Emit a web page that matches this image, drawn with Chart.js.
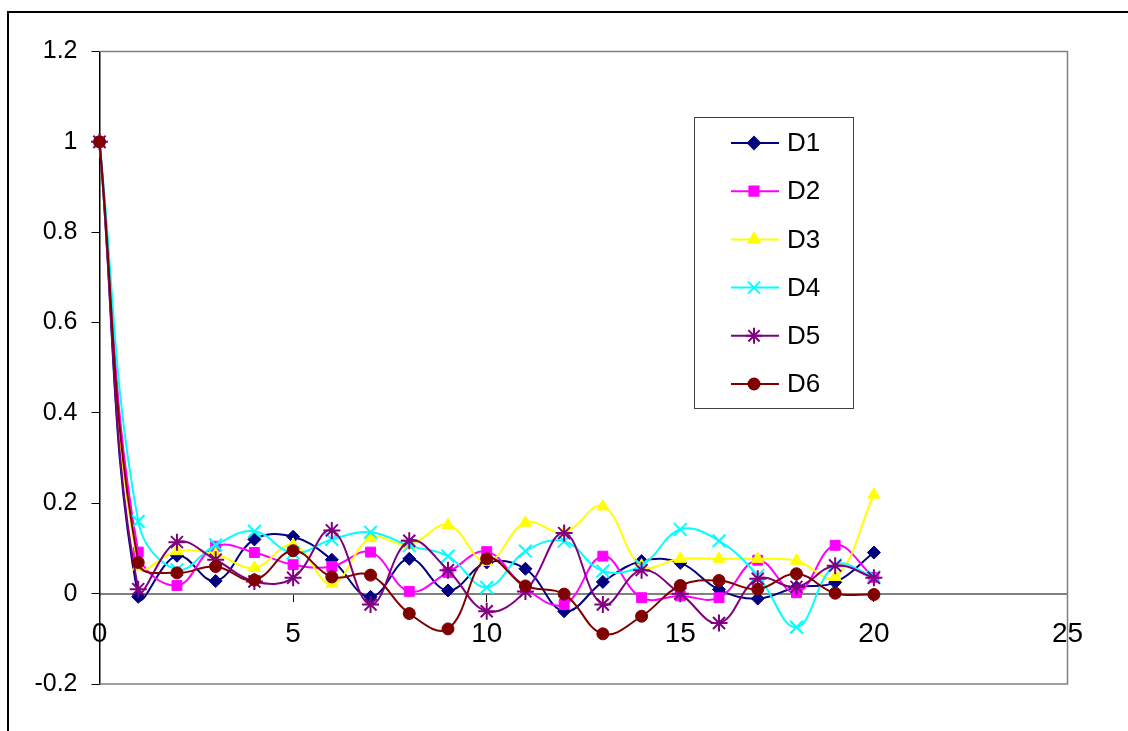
<!DOCTYPE html>
<html>
<head>
<meta charset="utf-8">
<title>D1-D6</title>
<script src="https://cdn.jsdelivr.net/npm/chart.js"></script>
<style>
  html, body { margin: 0; padding: 0; background: #fff; overflow: hidden; }
  #wrap { position: relative; width: 1128px; height: 731px; }
</style>
</head>
<body>
<div id="wrap"><canvas id="chart" width="1128" height="731"></canvas></div>
<script>
// x positions (lag) and the six series
const xValues = [0, 1, 2, 3, 4, 5, 6, 7, 8, 9, 10, 11, 12, 13, 14, 15, 16, 17, 18, 19, 20];
const d1 = [1, -0.007, 0.084, 0.028, 0.12, 0.126, 0.075, -0.007, 0.077, 0.007, 0.069, 0.055, -0.039, 0.026, 0.072, 0.068, 0.009, -0.011, 0.014, 0.025, 0.091];
const d2 = [1, 0.092, 0.018, 0.105, 0.091, 0.064, 0.06, 0.092, 0.005, 0.047, 0.093, 0.012, -0.024, 0.083, -0.009, -0.005, -0.009, 0.074, 0.002, 0.107, 0.036];
const d3 = [1, 0.06, 0.094, 0.087, 0.057, 0.108, 0.022, 0.123, 0.108, 0.152, 0.07, 0.157, 0.136, 0.193, 0.062, 0.077, 0.077, 0.077, 0.073, 0.037, 0.219];
const d4 = [1, 0.16, 0.053, 0.108, 0.138, 0.09, 0.12, 0.136, 0.106, 0.083, 0.014, 0.094, 0.116, 0.05, 0.062, 0.142, 0.117, 0.04, -0.074, 0.063, 0.037];
const d5 = [1, 0.01, 0.114, 0.075, 0.027, 0.035, 0.14, -0.024, 0.117, 0.052, -0.039, 0.005, 0.134, -0.024, 0.052, 0.0, -0.065, 0.033, 0.015, 0.062, 0.035];
const d6 = [1, 0.069, 0.046, 0.06, 0.03, 0.095, 0.037, 0.041, -0.044, -0.078, 0.077, 0.017, -0.001, -0.089, -0.05, 0.018, 0.029, 0.01, 0.044, 0.001, -0.002];

const seriesNames = ['D1', 'D2', 'D3', 'D4', 'D5', 'D6'];
const seriesData = [d1, d2, d3, d4, d5, d6];
const seriesColors = ['#000080', '#ff00ff', '#ffff00', '#00ffff', '#800080', '#800000'];
const seriesMarkers = ['rectRot', 'rect', 'triangle', 'crossRot', 'star', 'circle'];
const markerSizes = [6.5, 7, 7, 9, 8.5, 6];

const FONT = '"Liberation Sans", Arial, sans-serif';

function markerBorder(i) {
    return (seriesMarkers[i] === 'crossRot' || seriesMarkers[i] === 'star') ? 2 : 1;
}

// Outer chart border (runs off the right/bottom edge like the original)
const outerFrame = {
    id: 'outerFrame',
    beforeDraw(chart) {
        const ctx = chart.ctx;
        ctx.save();
        ctx.fillStyle = '#fff';
        ctx.fillRect(0, 0, chart.width, chart.height);
        ctx.strokeStyle = '#000';
        ctx.lineWidth = 2;
        ctx.strokeRect(8, 12, 2000, 2000);
        ctx.restore();
    }
};

// Grey plot-area box: top, right and bottom edges
const plotFrame = {
    id: 'plotFrame',
    beforeDatasetsDraw(chart) {
        const a = chart.chartArea;
        const ctx = chart.ctx;
        ctx.save();
        ctx.strokeStyle = '#808080';
        ctx.lineWidth = 1.5;
        ctx.beginPath();
        ctx.moveTo(a.left, a.top);
        ctx.lineTo(a.right, a.top);
        ctx.lineTo(a.right, a.bottom);
        ctx.lineTo(a.left, a.bottom);
        ctx.stroke();
        ctx.restore();
    }
};

// Legend box inside the plot, drawn from the dataset styles
const boxLegend = {
    id: 'boxLegend',
    afterDraw(chart) {
        const ctx = chart.ctx;
        const bx = 694.5, by = 117.5, bw = 159, bh = 291;
        ctx.save();
        ctx.fillStyle = '#fff';
        ctx.fillRect(bx, by, bw, bh);
        ctx.strokeStyle = '#404040';
        ctx.lineWidth = 1;
        ctx.strokeRect(bx, by, bw, bh);
        ctx.font = '26px ' + FONT;
        ctx.textBaseline = 'middle';
        ctx.textAlign = 'left';
        seriesNames.forEach((name, i) => {
            const y = 143 + i * 48.2;
            ctx.strokeStyle = seriesColors[i];
            ctx.lineWidth = 2;
            ctx.beginPath();
            ctx.moveTo(731, y);
            ctx.lineTo(779, y);
            ctx.stroke();
            ctx.fillStyle = seriesColors[i];
            Chart.helpers.drawPoint(ctx, {
                pointStyle: seriesMarkers[i],
                radius: markerSizes[i] - 0.5,
                borderWidth: markerBorder(i),
                rotation: 0
            }, 754, y);
            ctx.fillStyle = '#000';
            ctx.fillText(name, 787, y + 1);
        });
        ctx.restore();
    }
};

const datasets = seriesNames.map((name, i) => ({
    label: name,
    data: xValues.map((x, j) => ({ x: x, y: seriesData[i][j] })),
    borderColor: seriesColors[i],
    backgroundColor: seriesColors[i],
    pointBackgroundColor: seriesColors[i],
    pointBorderColor: seriesColors[i],
    pointStyle: seriesMarkers[i],
    pointRadius: markerSizes[i],
    pointBorderWidth: markerBorder(i),
    borderWidth: 2,
    tension: 0.4,
    fill: false,
    order: seriesNames.length - i,
    clip: 10
}));

new Chart(document.getElementById('chart').getContext('2d'), {
    type: 'line',
    data: { datasets: datasets },
    plugins: [outerFrame, plotFrame, boxLegend],
    options: {
        responsive: false,
        animation: false,
        devicePixelRatio: 1,
        layout: { padding: { left: 0, top: 51.5, right: 60.5, bottom: 47 } },
        plugins: {
            legend: { display: false },
            tooltip: { enabled: false }
        },
        scales: {
            x: {
                type: 'linear',
                position: { y: 0 },
                min: 0,
                max: 25,
                ticks: {
                    stepSize: 5,
                    color: '#000',
                    padding: 17,
                    font: { family: FONT, size: 28 }
                },
                grid: {
                    drawOnChartArea: false,
                    drawTicks: true,
                    tickLength: 7,
                    color: '#000'
                },
                border: { display: true, color: '#808080', width: 2 }
            },
            y: {
                type: 'linear',
                position: 'left',
                min: -0.2,
                max: 1.2,
                afterFit(scale) { scale.width = 99.5; },
                ticks: {
                    stepSize: 0.2,
                    color: '#000',
                    padding: 14,
                    font: { family: FONT, size: 25 },
                    callback: v => String(+v.toFixed(1))
                },
                grid: {
                    drawOnChartArea: false,
                    drawTicks: true,
                    tickLength: 8,
                    color: '#000'
                },
                border: { display: true, color: '#000', width: 1.5 }
            }
        }
    }
});
</script>
</body>
</html>
